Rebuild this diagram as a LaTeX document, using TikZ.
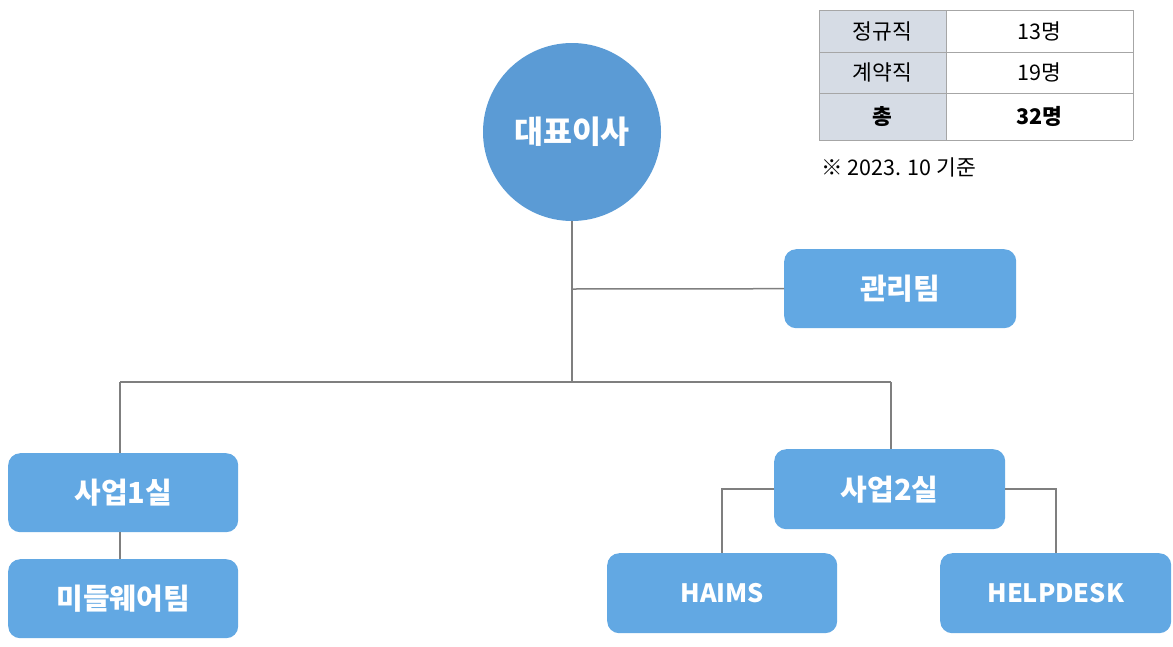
\documentclass[tikz,border=0pt]{standalone}
\usepackage{fontspec}
\setmainfont{Noto Sans CJK KR}
\begin{document}
\begin{tikzpicture}[x=1pt,y=-1pt,
  conn/.style={draw=conngray,line width=1.5pt},
  orgbox/.style={fill=boxblue,rounded corners=12pt,minimum width=231pt,minimum height=79pt,inner sep=0pt,text=white,font=\fontsize{29}{34}\selectfont\bfseries,anchor=north west},
  latinbox/.style={orgbox,font=\fontsize{25.3}{30}\selectfont\bfseries},
  tabtext/.style={font=\fontsize{21.5}{25}\selectfont}]
\definecolor{boxblue}{HTML}{62A8E3}
\definecolor{circblue}{HTML}{5B9BD5}
\definecolor{conngray}{HTML}{7F7F7F}
\definecolor{tabgray}{HTML}{A6A6A6}
\definecolor{headfill}{HTML}{D6DCE5}
\useasboundingbox (0,0) rectangle (1173,646);
% circle
\node[circle,fill=circblue,minimum size=178pt,inner sep=0pt,text=white,font=\fontsize{31.5}{36}\selectfont\bfseries] (ceo) at (572,132) {대표이사};
% boxes
\node[orgbox,minimum width=232pt] (mgmt) at (784,249) {관리팀};
\node[orgbox,minimum width=230pt] (biz1) at (8,453) {사업1실};
\node[orgbox,minimum width=230pt] (mw) at (8,559) {미들웨어팀};
\node[orgbox,minimum width=231pt,minimum height=80pt] (biz2) at (774,449) {사업2실};
\node[latinbox,minimum width=230pt,minimum height=80pt] (haims) at (607,553) {HAIMS};
\node[latinbox,minimum width=231pt,minimum height=80pt] (help) at (940,553) {HELPDESK};
% connectors
\coordinate (jmain) at (572,382);
\coordinate (jmgmt) at (572,289);
\coordinate (jl) at (120,382);
\coordinate (jr) at (891,382);
\draw[conn] (ceo.south) -- (jmain);
\draw[conn] (jmgmt) -- (mgmt.west);
\draw[conn] (jl) -- (jr);
\draw[conn] (jl) -- (jl |- biz1.north);
\draw[conn] (jr) -- (jr |- biz2.north);
\draw[conn] (biz1.south -| jl) -- (mw.north -| jl);
\draw[conn] (biz2.west) -| (haims.north -| 722,0);
\draw[conn] (biz2.east) -| (help.north -| 1056,0);
% table
\fill[headfill] (819,10) rectangle (946,140);
\draw[tabgray,line width=1pt] (819,10) -- (1133,10) (819,52) -- (1133,52) (819,93) -- (1133,93) (819,140) -- (1133,140)
  (819,10) -- (819,140) (946,10) -- (946,140) (1133,10) -- (1133,140);
\node[tabtext] (t11) at (882.5,31) {정규직};
\node[tabtext] (t12) at (1039.5,31) {13명};
\node[tabtext] (t21) at (882.5,72.5) {계약직};
\node[tabtext] (t22) at (1039.5,72.5) {19명};
\node[tabtext,font=\fontsize{21.5}{25}\selectfont\bfseries] (t31) at (882.5,116.5) {총};
\node[tabtext,font=\fontsize{21.5}{25}\selectfont\bfseries] (t32) at (1039.5,116.5) {32명};
\node[anchor=west,inner sep=0pt,font=\fontsize{21.5}{25}\selectfont] (note) at (821,167) {※ 2023. 10 기준};
\end{tikzpicture}
\end{document}
